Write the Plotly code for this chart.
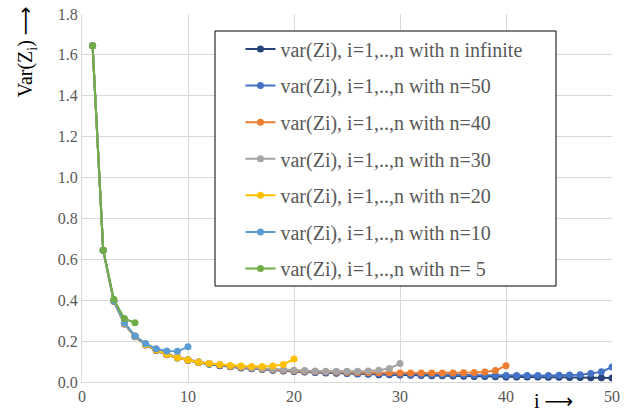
import plotly.graph_objects as go

# ---------------- data ----------------
i_inf = list(range(1, 51))
v_inf = [1.645, 0.645, 0.395, 0.284, 0.221, 0.181, 0.154, 0.133, 0.118, 0.105,
         0.095, 0.087, 0.080, 0.074, 0.069, 0.065, 0.061, 0.057, 0.054, 0.051,
         0.049, 0.047, 0.044, 0.043, 0.041, 0.039, 0.038, 0.036, 0.035, 0.034,
         0.033, 0.032, 0.031, 0.030, 0.029, 0.028, 0.027, 0.027, 0.026, 0.025,
         0.025, 0.024, 0.024, 0.023, 0.023, 0.022, 0.022, 0.021, 0.021, 0.020]

i_50 = list(range(1, 51))
v_50 = [1.645, 0.645, 0.396, 0.285, 0.223, 0.183, 0.156, 0.135, 0.120, 0.107,
        0.097, 0.089, 0.082, 0.076, 0.071, 0.067, 0.063, 0.059, 0.056, 0.053,
        0.050, 0.048, 0.046, 0.045, 0.043, 0.042, 0.041, 0.040, 0.039, 0.038,
        0.037, 0.036, 0.035, 0.035, 0.034, 0.034, 0.033, 0.033, 0.033, 0.032,
        0.032, 0.032, 0.032, 0.032, 0.033, 0.034, 0.036, 0.041, 0.050, 0.073]

i_40 = list(range(1, 41))
v_40 = [1.645, 0.645, 0.396, 0.286, 0.224, 0.184, 0.157, 0.136, 0.121, 0.108,
        0.098, 0.090, 0.083, 0.077, 0.072, 0.068, 0.064, 0.061, 0.058, 0.055,
        0.053, 0.051, 0.050, 0.049, 0.048, 0.047, 0.046, 0.045, 0.045, 0.044,
        0.044, 0.044, 0.044, 0.044, 0.044, 0.045, 0.046, 0.049, 0.056, 0.080]

i_30 = list(range(1, 31))
v_30 = [1.645, 0.645, 0.397, 0.287, 0.225, 0.185, 0.158, 0.137, 0.122, 0.109,
        0.099, 0.091, 0.084, 0.078, 0.073, 0.069, 0.066, 0.063, 0.060, 0.058,
        0.056, 0.054, 0.053, 0.052, 0.052, 0.052, 0.054, 0.058, 0.066, 0.090]

i_20 = list(range(1, 21))
v_20 = [1.645, 0.645, 0.397, 0.288, 0.224, 0.184, 0.156, 0.134, 0.119, 0.107,
        0.097, 0.090, 0.085, 0.081, 0.078, 0.076, 0.076, 0.078, 0.086, 0.112]

i_10 = list(range(1, 11))
v_10 = [1.645, 0.645, 0.398, 0.290, 0.225, 0.188, 0.163, 0.152, 0.150, 0.172]

i_5 = list(range(1, 6))
v_5 = [1.645, 0.645, 0.405, 0.310, 0.290]

names = ["var(Zi), i=1,..,n with n infinite",
         "var(Zi), i=1,..,n with n=50",
         "var(Zi), i=1,..,n with n=40",
         "var(Zi), i=1,..,n with n=30",
         "var(Zi), i=1,..,n with n=20",
         "var(Zi), i=1,..,n with n=10",
         "var(Zi), i=1,..,n with n= 5"]

x_ticks = [0, 10, 20, 30, 40, 50]
y_ticks = [0.0, 0.2, 0.4, 0.6, 0.8, 1.0, 1.2, 1.4, 1.6, 1.8]

# ---------------- figure ----------------
colors = ["#264478", "#4472C4", "#ED7D31", "#A5A5A5", "#FFC000", "#5B9BD5", "#70AD47"]
series = [(i_inf, v_inf), (i_50, v_50), (i_40, v_40), (i_30, v_30),
          (i_20, v_20), (i_10, v_10), (i_5, v_5)]

FONT = "Liberation Serif"
ARROW = "<span style='font-family:DejaVu Sans'>⟶</span>"

fig = go.Figure()
for k, ((xs, ys), nm, c) in enumerate(zip(series, names, colors)):
    fig.add_trace(go.Scatter(
        x=xs, y=ys, name=nm, mode="lines+markers",
        line=dict(color=c, width=2),
        marker=dict(color=c, size=7),
        legendgroup=f"g{k}",
    ))

fig.update_layout(
    width=639, height=412,
    margin=dict(l=82, r=27, t=14, b=30, autoexpand=False),
    plot_bgcolor="white", paper_bgcolor="white",
    font=dict(family=FONT, color="#595959", size=16),
    showlegend=True,
    legend=dict(
        x=0.299, y=0.958, xanchor="left", yanchor="top",
        bgcolor="rgba(0,0,0,0)", borderwidth=0,
        font=dict(family=FONT, size=20, color="#595959"),
        tracegroupgap=7.6,
        itemwidth=30,
    ),
    xaxis=dict(
        range=[0, 50], tickvals=x_ticks, showgrid=True, gridcolor="#D9D9D9",
        gridwidth=1, zeroline=False, showline=True, linecolor="#D9D9D9",
        ticks="", tickfont=dict(family=FONT, size=16, color="#595959"),
        automargin=False,
    ),
    yaxis=dict(
        range=[0, 1.8], tickvals=y_ticks, tickformat=".1f", showgrid=True,
        gridcolor="#D9D9D9", gridwidth=1, zeroline=False, showline=True,
        linecolor="#D9D9D9", ticks="",
        tickfont=dict(family=FONT, size=16, color="#595959"),
        automargin=False,
    ),
    shapes=[dict(type="rect", xref="paper", yref="paper",
                 x0=(215 - 82) / 530, x1=(556 - 82) / 530,
                 y0=(382 - 286) / 368, y1=(382 - 31) / 368,
                 line=dict(color="black", width=1), fillcolor="white",
                 layer="above")],
    annotations=[
        dict(text="Var(Z<sub>i</sub>) " + ARROW, xref="paper", yref="paper",
             x=-0.105, y=(382 - 52) / 368, textangle=-90, showarrow=False,
             xanchor="center", yanchor="middle",
             font=dict(family=FONT, size=20, color="black")),
        dict(text="i " + ARROW, xref="paper", yref="paper",
             x=(553 - 82) / 530, y=-(401 - 382) / 368, showarrow=False,
             xanchor="center", yanchor="middle",
             font=dict(family=FONT, size=20, color="black")),
    ],
)

fig.write_html("out.html", config={"displayModeBar": False},
               post_script="document.body.style.margin='0';document.body.style.padding='0';")
